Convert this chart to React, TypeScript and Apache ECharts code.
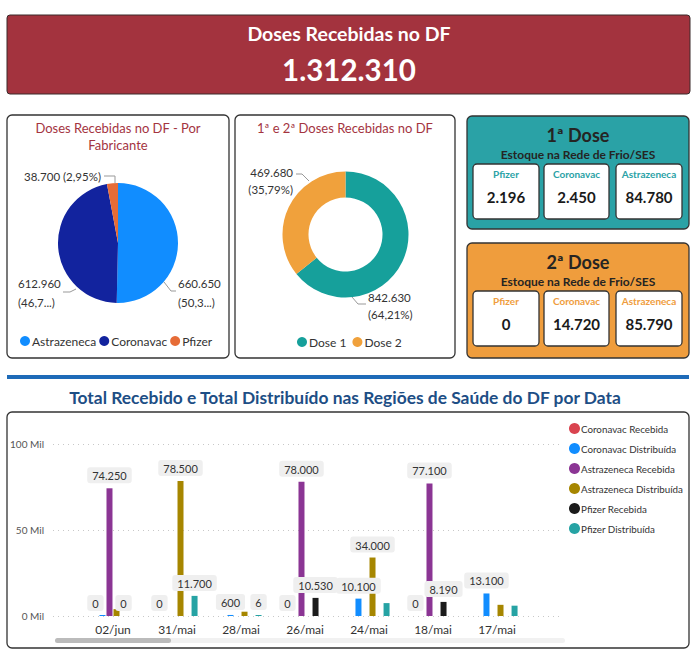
import React, { useEffect, useRef } from 'react';
import * as echarts from 'echarts';

// ---------- data ----------
const totalRecebido = 1312310;

const fabricantes = ['Astrazeneca', 'Coronavac', 'Pfizer'];
const dosesPorFabricante = [660650, 612960, 38700];

const doses = ['Dose 1', 'Dose 2'];
const dosesRecebidas = [842630, 469680];

const estoqueVacinas = ['Pfizer', 'Coronavac', 'Astrazeneca'];
const estoqueDose1 = [2196, 2450, 84780];
const estoqueDose2 = [0, 14720, 85790];

const datas = ['02/jun', '31/mai', '28/mai', '26/mai', '24/mai', '18/mai', '17/mai'];
const serieNomes = [
  'Coronavac Recebida',
  'Coronavac Distribuída',
  'Astrazeneca Recebida',
  'Astrazeneca Distribuída',
  'Pfizer Recebida',
  'Pfizer Distribuída',
];
const coronavacRecebida = [0, 0, null, 0, null, 0, null];
const coronavacDistribuida = [300, null, 600, null, 10100, null, 13100];
const astrazenecaRecebida = [74250, null, null, 78000, null, 77100, null];
const astrazenecaDistribuida = [4000, 78500, 2500, null, 34000, null, 6500];
const pfizerRecebida = [0, null, null, 10530, null, 8190, null];
const pfizerDistribuida = [null, 11700, 6, null, 7500, null, 6000];

// which value labels Power BI kept visible
const rotuloCR = [true, true, false, true, false, true, false];
const rotuloCD = [false, false, true, false, true, false, true];
const rotuloAR = [true, false, false, true, false, true, false];
const rotuloAD = [false, true, false, false, true, false, false];
const rotuloPR = [true, false, false, true, false, true, false];
const rotuloPD = [false, true, true, false, false, false, false];

const yTicks = [0, 50000, 100000];

// ---------- helpers ----------
const fmt = (v: number) => String(v).replace(/\B(?=(\d{3})+(?!\d))/g, '.');
const FONT = 'Lato, "Open Sans", sans-serif';

const serieCores = ['#D9434F', '#118DFF', '#8B3594', '#A68600', '#1B1B1B', '#26A3A4'];
const serieValores = [
  coronavacRecebida,
  coronavacDistribuida,
  astrazenecaRecebida,
  astrazenecaDistribuida,
  pfizerRecebida,
  pfizerDistribuida,
];
const serieRotulos = [rotuloCR, rotuloCD, rotuloAR, rotuloAD, rotuloPR, rotuloPD];

// label placement (Power BI style) for the two pies
const pie1Labels = [
  { x: 178, y: 293, align: 'left', line: [[164, 282], [171, 291], [176, 291]] },
  { x: 18, y: 293, align: 'left', line: [[76, 289], [70, 292], [63, 292]] },
  { x: 101, y: 176, align: 'right', line: [[115, 183], [115, 176], [104, 176]] },
];
const pie2Labels = [
  { x: 368, y: 306, align: 'left', line: [[352, 297], [358, 304], [366, 304]] },
  { x: 293, y: 181, align: 'right', line: [[309, 181], [302, 174], [296, 174]] },
];

function buildGraphic() {
  const g: any[] = [];
  g.push({
    type: 'rect',
    z: -10,
    shape: { x: 7, y: 15, width: 683, height: 79, r: 3 },
    style: { fill: '#A3333E', stroke: '#3a2a2a', lineWidth: 1 },
  });
  g.push({
    type: 'text',
    x: 349,
    y: 33,
    style: {
      text: 'Doses Recebidas no DF',
      fill: '#fff',
      font: `bold 19.5px ${FONT}`,
      textAlign: 'center',
      textVerticalAlign: 'middle',
    },
  });
  g.push({
    type: 'text',
    x: 349,
    y: 69,
    style: {
      text: fmt(totalRecebido),
      fill: '#fff',
      font: `bold 29.5px ${FONT}`,
      textAlign: 'center',
      textVerticalAlign: 'middle',
    },
  });

  const cards = [
    { x: 7, w: 222 },
    { x: 235, w: 220 },
  ];
  cards.forEach((c) =>
    g.push({
      type: 'rect',
      z: -10,
      shape: { x: c.x, y: 115, width: c.w, height: 243, r: 5 },
      style: { fill: '#fff', stroke: '#333', lineWidth: 1.3 },
    })
  );
  const titles = [
    { x: 118, y: 128, t: 'Doses Recebidas no DF - Por' },
    { x: 118, y: 145, t: 'Fabricante' },
    { x: 345, y: 128, t: '1ª e 2ª Doses Recebidas no DF' },
  ];
  titles.forEach((t) =>
    g.push({
      type: 'text',
      x: t.x,
      y: t.y,
      style: {
        text: t.t,
        fill: '#A4343F',
        font: `13px ${FONT}`,
        textAlign: 'center',
        textVerticalAlign: 'middle',
      },
    })
  );

  const stock = [
    { y: 116, h: 113, fill: '#2AA2A6', lbl: '#2AA2A6', title: '1ª Dose', vals: estoqueDose1 },
    { y: 243, h: 115, fill: '#EF9D3D', lbl: '#EF9D3D', title: '2ª Dose', vals: estoqueDose2 },
  ];
  const boxX = [473, 544, 616];
  const boxW = [66, 65, 66];
  stock.forEach((s) => {
    g.push({
      type: 'rect',
      z: -10,
      shape: { x: 467, y: s.y, width: 222, height: s.h, r: 5 },
      style: { fill: s.fill, stroke: '#333', lineWidth: 1.3 },
    });
    g.push({
      type: 'text',
      x: 578,
      y: s.y + 19,
      style: {
        text: s.title,
        fill: '#252423',
        font: `bold 18px ${FONT}`,
        textAlign: 'center',
        textVerticalAlign: 'middle',
      },
    });
    g.push({
      type: 'text',
      x: 578,
      y: s.y + 38,
      style: {
        text: 'Estoque na Rede de Frio/SES',
        fill: '#252423',
        font: `bold 12px ${FONT}`,
        textAlign: 'center',
        textVerticalAlign: 'middle',
      },
    });
    const by = s.y + 48;
    const bh = 55;
    estoqueVacinas.forEach((v, i) => {
      g.push({
        type: 'rect',
        z: -5,
        shape: { x: boxX[i], y: by, width: boxW[i], height: bh, r: 4 },
        style: { fill: '#fff', stroke: '#333', lineWidth: 1.3 },
      });
      g.push({
        type: 'text',
        x: boxX[i] + boxW[i] / 2,
        y: by + 10,
        style: {
          text: v,
          fill: s.lbl,
          font: `bold 10px ${FONT}`,
          textAlign: 'center',
          textVerticalAlign: 'middle',
        },
      });
      g.push({
        type: 'text',
        x: boxX[i] + boxW[i] / 2,
        y: by + 33,
        style: {
          text: fmt(s.vals[i]),
          fill: '#1a1a1a',
          font: `bold 15px ${FONT}`,
          textAlign: 'center',
          textVerticalAlign: 'middle',
        },
      });
    });
  });

  g.push({
    type: 'rect',
    z: -10,
    shape: { x: 7, y: 375, width: 682, height: 4 },
    style: { fill: '#1E6BB8' },
  });
  g.push({
    type: 'text',
    x: 345,
    y: 397,
    style: {
      text: 'Total Recebido e Total Distribuído nas Regiões de Saúde do DF por Data',
      fill: '#1D4E85',
      font: `bold 17.4px ${FONT}`,
      textAlign: 'center',
      textVerticalAlign: 'middle',
    },
  });
  g.push({
    type: 'rect',
    z: -10,
    shape: { x: 7, y: 412, width: 682, height: 236, r: 5 },
    style: { fill: '#fff', stroke: '#333', lineWidth: 1.3 },
  });
  g.push({
    type: 'rect',
    z: 5,
    shape: { x: 55, y: 638, width: 510, height: 5, r: 2.5 },
    style: { fill: '#F1F1F1' },
  });
  g.push({
    type: 'rect',
    z: 6,
    shape: { x: 55, y: 638, width: 116, height: 5, r: 2.5 },
    style: { fill: '#BBBBBB' },
  });
  return g;
}

export default function App() {
  const ref = useRef<HTMLDivElement>(null);

  useEffect(() => {
    document.body.style.margin = '0';
    const chart = echarts.init(ref.current!, null, { renderer: 'svg' });

    const barSeries = serieNomes.map((nome, si) => ({
      type: 'bar',
      name: nome,
      xAxisIndex: 1,
      yAxisIndex: 1,
      barWidth: 6,
      barGap: '17%',
      barMinHeight: si === 1 || si === 5 ? 1 : 0,
      itemStyle: { color: serieCores[si] },
      label: {
        show: false,
        position: 'top',
        distance: 5,
        formatter: (p: any) => fmt(p.value),
        backgroundColor: '#EFEFEF',
        borderRadius: 3,
        padding: [3, 5, 2, 5],
        color: '#333',
        fontSize: 11,
        fontFamily: FONT,
      },
      data: serieValores[si].map((v, i) =>
        v === null ? null : { value: v, label: { show: serieRotulos[si][i] } }
      ),
    }));

    const layoutFrom = (defs: any[]) => (p: any) => {
      const d = defs[p.dataIndex];
      return {
        x: d.x,
        y: d.y,
        align: d.align,
        verticalAlign: 'middle',
        labelLinePoints: d.line,
      };
    };

    const option: any = {
      animation: false,
      textStyle: { fontFamily: FONT },
      graphic: buildGraphic(),
      legend: [
        {
          data: fabricantes,
          left: 15,
          top: 330,
          icon: 'circle',
          itemWidth: 10,
          itemHeight: 10,
          itemGap: 3,
          textStyle: { fontSize: 12, color: '#333', fontFamily: FONT, padding: [0, 0, 0, -3] },
        },
        {
          data: doses,
          left: 292,
          top: 331,
          icon: 'circle',
          itemWidth: 10,
          itemHeight: 10,
          itemGap: 6,
          textStyle: { fontSize: 12, color: '#333', fontFamily: FONT, padding: [0, 0, 0, -3] },
        },
        {
          data: serieNomes,
          left: 564,
          top: 418,
          orient: 'vertical',
          icon: 'circle',
          itemWidth: 11,
          itemHeight: 11,
          itemGap: 9,
          textStyle: { fontSize: 9.8, color: '#333', fontFamily: FONT, padding: [0, 0, 0, -4] },
        },
      ],
      grid: [
        { left: 53, width: 509, top: 444, height: 172 },
        { left: 81, width: 448, top: 444, height: 172 },
      ],
      xAxis: [
        { gridIndex: 0, type: 'value', min: 0, max: 1, show: false },
        {
          gridIndex: 1,
          type: 'category',
          data: datas,
          axisLine: { show: false },
          axisTick: { show: false },
          axisLabel: { color: '#333', fontSize: 12, margin: 7, fontFamily: FONT },
        },
      ],
      yAxis: [
        {
          gridIndex: 0,
          type: 'value',
          min: yTicks[0],
          max: yTicks[yTicks.length - 1],
          interval: yTicks[1] - yTicks[0],
          axisLine: { show: false },
          axisTick: { show: false },
          axisLabel: {
            color: '#555',
            fontSize: 10,
            margin: 9,
            fontFamily: FONT,
            formatter: (v: number) => `${v / 1000} Mil`,
          },
          splitLine: { lineStyle: { color: '#C8C8C8', type: [1, 4], width: 1 } },
        },
        {
          gridIndex: 1,
          type: 'value',
          min: yTicks[0],
          max: yTicks[yTicks.length - 1],
          show: false,
          splitLine: { show: false },
        },
      ],
      series: [
        {
          type: 'pie',
          center: [118, 243],
          radius: 60,
          startAngle: 90,
          clockwise: true,
          color: ['#118DFF', '#12239E', '#E66C37'],
          label: {
            color: '#333',
            fontSize: 11.5,
            fontFamily: FONT,
            lineHeight: 19,
            overflow: 'none',
            formatter: (p: any) => {
              const pct = (p.value / totalRecebido) * 100;
              if (pct < 10) return `${fmt(p.value)} (${pct.toFixed(2).replace('.', ',')}%)`;
              return `${fmt(p.value)}\n(${pct.toFixed(1).replace('.', ',')}...)`;
            },
          },
          labelLine: { show: true, lineStyle: { color: '#999', width: 1 } },
          labelLayout: layoutFrom(pie1Labels),
          data: fabricantes.map((n, i) => ({ name: n, value: dosesPorFabricante[i] })),
        },
        {
          type: 'pie',
          center: [345.5, 234.5],
          radius: [37, 63],
          startAngle: 90,
          clockwise: true,
          color: ['#16A09B', '#F0A13C'],
          label: {
            color: '#333',
            fontSize: 11.5,
            fontFamily: FONT,
            lineHeight: 17,
            overflow: 'none',
            formatter: (p: any) => {
              const pct = (p.value / totalRecebido) * 100;
              return `${fmt(p.value)}\n(${pct.toFixed(2).replace('.', ',')}%)`;
            },
          },
          labelLine: { show: true, lineStyle: { color: '#999', width: 1 } },
          labelLayout: layoutFrom(pie2Labels),
          data: doses.map((n, i) => ({ name: n, value: dosesRecebidas[i] })),
        },
        ...barSeries,
      ],
    };

    chart.setOption(option);
    return () => chart.dispose();
  }, []);

  return (
    <div
      ref={ref}
      style={{ position: 'absolute', left: 0, top: 0, width: 700, height: 658, background: '#fff' }}
    />
  );
}
